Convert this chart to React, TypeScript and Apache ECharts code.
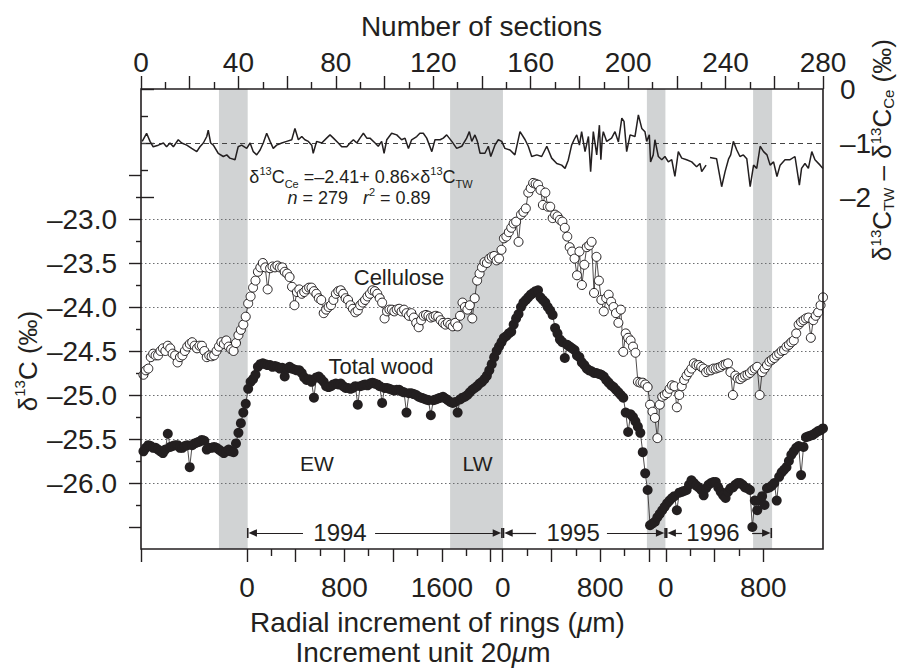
import React, { useEffect, useRef } from 'react';
import * as echarts from 'echarts';

const FONT = '"Liberation Sans", Arial, Helvetica, sans-serif';
const INK = '#231f20';

// delta13C of cellulose, one value per section (sections 1..280)
const cellulose = [
  -24.77, -24.72, -24.70, -24.57, -24.53, -24.55, -24.55, -24.50, -24.47, -24.50,
  -24.44, -24.47, -24.53, -24.55, -24.63, -24.57, -24.55, -24.50, -24.45, -24.42,
  -24.40, -24.44, -24.47, -24.44, -24.44, -24.50, -24.57, -24.55, -24.56, -24.55,
  -24.50, -24.45, -24.40, -24.42, -24.38, -24.45, -24.48, -24.50, -24.41, -24.32,
  -24.26, -24.20, -24.11, -23.96, -23.88, -23.78, -23.70, -23.60, -23.55, -23.50,
  -23.55, -23.80, -23.56, -23.54, -23.55, -23.53, -23.55, -23.55, -23.60, -23.62,
  -23.66, -23.77, -23.98, -23.83, -23.80, -23.85, -23.83, -23.80, -23.78, -23.78,
  -23.82, -23.85, -23.90, -23.92, -24.07, -24.03, -24.00, -23.98, -23.92, -23.85,
  -23.82, -23.81, -23.85, -23.90, -23.92, -23.98, -24.02, -24.06, -24.04, -23.98,
  -23.95, -23.92, -23.88, -23.85, -23.81, -23.82, -23.85, -23.90, -23.95, -24.13,
  -24.05, -24.03, -24.03, -24.05, -24.03, -24.02, -24.05, -24.03, -24.07, -24.10,
  -24.07, -24.12, -24.18, -24.23, -24.15, -24.10, -24.09, -24.10, -24.12, -24.11,
  -24.10, -24.11, -24.15, -24.18, -24.20, -24.18, -24.20, -24.22, -24.18, -24.22,
  -24.10, -23.95, -24.00, -24.03, -23.98, -24.13, -23.90, -23.70, -23.62, -23.55,
  -23.49, -23.50, -23.45, -23.43, -23.42, -23.47, -23.45, -23.35, -23.22, -23.20,
  -23.15, -23.10, -23.05, -23.03, -23.26, -22.95, -22.92, -22.88, -22.70, -22.65,
  -22.59, -22.60, -22.61, -22.67, -22.84, -22.70, -22.86, -22.86, -22.99, -22.95,
  -22.97, -23.01, -23.03, -23.10, -23.20, -23.32, -23.37, -23.45, -23.64, -23.37,
  -23.75, -23.52, -23.32, -23.30, -23.26, -23.84, -23.43, -23.70, -23.92, -24.05,
  -23.90, -23.86, -23.94, -24.00, -24.07, -24.18, -24.03, -24.51, -24.30, -24.35,
  -24.38, -24.45, -24.52, -24.85, -24.86, -24.86, -24.88, -24.91, -25.11, -25.19,
  -25.26, -25.49, -25.11, -25.02, -25.00, -24.98, -24.93, -24.89, -24.90, -25.14,
  -25.00, -24.90, -24.83, -24.78, -24.74, -24.70, -24.64, -24.66, -24.66, -24.68,
  -24.70, -24.74, -24.72, -24.72, -24.70, -24.70, -24.69, -24.68, -24.66, -24.65,
  -24.64, -24.74, -25.00, -24.78, -24.81, -24.82, -24.80, -24.78, -24.77, -24.75,
  -24.72, -24.70, -24.68, -25.00, -24.74, -24.70, -24.66, -24.62, -24.60, -24.58,
  -24.55, -24.53, -24.50, -24.49, -24.45, -24.43, -24.40, -24.38, -24.30, -24.20,
  -24.17, -24.15, -24.13, -24.12, -24.35, -24.15, -24.10, -24.06, -23.98, -23.89,
];

// delta13C of total wood, one value per section (sections 1..280)
const totalWood = [
  -25.64, -25.60, -25.57, -25.58, -25.60, -25.60, -25.62, -25.64, -25.66, -25.62,
  -25.44, -25.59, -25.58, -25.57, -25.57, -25.60, -25.60, -25.58, -25.57, -25.82,
  -25.57, -25.55, -25.54, -25.53, -25.51, -25.52, -25.62, -25.60, -25.60, -25.59,
  -25.60, -25.62, -25.64, -25.66, -25.64, -25.62, -25.64, -25.65, -25.55, -25.43,
  -25.32, -25.20, -25.10, -24.93, -24.85, -24.82, -24.77, -24.68, -24.65, -24.64,
  -24.65, -24.66, -24.66, -24.68, -24.67, -24.68, -24.70, -24.69, -24.79, -24.70,
  -24.68, -24.70, -24.71, -24.72, -24.72, -24.75, -24.80, -24.83, -24.82, -24.85,
  -25.03, -24.80, -24.79, -24.82, -24.85, -24.90, -24.91, -24.90, -24.88, -24.87,
  -24.88, -24.87, -24.90, -24.92, -24.92, -24.93, -24.92, -24.90, -25.11, -24.90,
  -24.89, -24.88, -24.89, -24.87, -24.86, -24.87, -24.88, -24.90, -25.09, -24.92,
  -24.92, -24.93, -24.94, -24.95, -24.94, -24.94, -24.96, -24.97, -25.20, -24.98,
  -24.98, -24.99, -25.00, -25.02, -25.03, -25.04, -25.05, -25.06, -25.23, -25.06,
  -25.05, -25.04, -25.03, -25.02, -25.04, -25.06, -25.08, -25.09, -25.08, -25.20,
  -25.05, -25.03, -25.02, -25.00, -24.97, -24.94, -24.92, -24.90, -24.87, -24.85,
  -24.82, -24.78, -24.72, -24.65, -24.57, -24.50, -24.45, -24.40, -24.35, -24.33,
  -24.30, -24.28, -24.20, -24.13, -24.08, -24.00, -23.95, -23.92, -23.89, -23.86,
  -23.84, -23.82, -23.81, -23.89, -23.92, -23.95, -24.00, -24.04, -24.09, -24.24,
  -24.30, -24.37, -24.40, -24.58, -24.43, -24.45, -24.47, -24.49, -24.55, -24.57,
  -24.63, -24.66, -24.70, -24.72, -24.73, -24.75, -24.75, -24.76, -24.77, -24.79,
  -24.83, -24.86, -24.89, -24.91, -24.94, -24.97, -25.00, -25.03, -25.20, -25.42,
  -25.22, -25.25, -25.30, -25.36, -25.43, -25.65, -25.89, -26.08, -26.48, -26.46,
  -26.44, -26.39, -26.35, -26.31, -26.27, -26.23, -26.20, -26.17, -26.15, -26.31,
  -26.11, -26.10, -26.09, -26.08, -26.02, -25.97, -26.00, -26.03, -26.05, -26.08,
  -26.14, -26.06, -26.02, -26.00, -25.99, -25.99, -26.05, -26.10, -26.14, -26.17,
  -26.10, -26.06, -26.05, -26.02, -26.00, -26.00, -26.02, -26.05, -26.06, -26.08,
  -26.50, -26.20, -26.31, -26.20, -26.15, -26.25, -26.06, -26.05, -26.03, -26.00,
  -26.20, -25.93, -25.88, -25.85, -25.82, -25.75, -25.68, -25.64, -25.60, -25.58,
  -25.91, -25.59, -25.48, -25.47, -25.46, -25.45, -25.43, -25.41, -25.40, -25.38,
];

// delta13C(TW) - delta13C(Ce) trace, read as (section, value) vertices; null = gap
const diffSections = [
  0.5, 2.3, 3.7, 5.0, 7.1, 9.2, 10.5, 11.9, 13.3, 15.3, 16.7, 18.8, 20.8, 22.9, 24.2, 25.6, 27.0, 27.6, 28.6, 29.7,
  31.7, 33.8, 35.2, 36.5, 38.6, 39.9, 41.3, 43.4, 44.8, 46.1, 47.5, 48.9, 50.2, 51.6, 53.0, 54.3, 55.7, 57.8, 59.8, 61.9,
  63.2, 64.6, 66.0, 67.3, 68.7, 70.1, 70.7, 72.1, 74.2, 76.2, 77.6, 79.0, 81.0, 82.4, 84.5, 85.8, 87.2, 88.6, 89.9, 91.3,
  92.7, 94.0, 96.1, 97.4, 98.8, 99.8, 100.9, 102.9, 105.0, 107.0, 108.4, 109.8, 111.1, 113.2, 114.5, 115.9, 117.3, 119.4, 120.7, 122.8,
  124.1, 125.5, 127.6, 129.6, 131.7, 133.7, 134.8, 135.8, 137.1, 138.1, 139.2, 141.2, 142.6, 143.6, 145.3, 146.7, 148.1, 149.4, 151.5, 153.5,
  155.6, 157.7, 159.0, 160.4, 162.5, 164.5, 166.6, 168.6, 170.7, 172.7, 174.1, 175.4, 176.8, 177.8, 178.9, 180.0, 180.9, 182.3, 183.7, 184.6,
  185.7, 187.1, 188.2, 188.8, 189.4, 189.8, 191.2, 193.2, 194.6, 196.0, 197.4, 198.3, 199.4, 200.8, 202.8, 204.2, 205.6, 206.9, 207.6, 208.7,
  209.2, 210.3, 211.0, 212.4, 213.8, 215.1, 216.5, 217.9, 219.2, 220.6, 222.0, 224.0, 226.1, 228.1, 229.5, 230.2, 232.0, 232.8, 233.6, 236.3,
  238.4, 239.8, 241.2, 242.1, 243.2, 244.6, 245.9, 247.3, 248.7, 250.1, 251.5, 252.8, 254.2, 255.6, 257.0, 258.3, 259.7, 261.1, 262.4, 264.4,
  266.5, 268.5, 270.3, 271.2, 272.6, 274.0, 275.4, 276.7, 278.8, 280.0,
];
const diffValues = [
  -0.97, -0.82, -0.97, -1.07, -1.04, -1.0, -1.07, -1.0, -1.07, -0.94, -1.0, -1.04, -1.1, -1.16, -1.07, -1.0, -0.88, -0.76, -1.0, -1.04,
  -1.19, -1.25, -1.22, -1.28, -1.31, -1.07, -1.04, -1.1, -1.0, -1.16, -1.22, -1.13, -1.0, -0.82, -0.97, -1.1, -1.04, -1.0, -0.97, -0.94,
  -0.73, -0.94, -0.88, -0.94, -0.97, -1.04, -1.19, -0.97, -1.0, -0.91, -0.85, -0.91, -1.0, -1.07, -1.07, -1.0, -0.94, -1.0, -0.91, -0.82,
  -0.91, -0.91, -1.0, -1.06, -0.97, -1.19, -0.94, -0.82, -0.85, -0.94, -0.91, -1.1, -0.94, -0.88, -0.82, -0.82, -0.91, -1.16, -0.94, -0.94,
  -0.91, -0.85, -0.97, -1.1, -1.06, -0.91, -0.79, -0.97, -0.85, -0.97, -1.19, -1.19, -1.06, -1.25, -1.04, -0.94, -0.97, -1.1, -1.13, -1.22,
  -0.79, -0.94, -1.06, -1.25, -1.22, -1.25, -1.06, -1.28, -1.38, -1.41, -1.47, -1.32, -1.04, -0.94, -0.85, -1.04, -0.79, -1.16, -0.88, -1.53,
  -0.79, -1.22, -0.67, -1.31, -0.91, -0.79, -0.97, -0.91, -0.79, -0.98, -0.54, -0.6, -1.16, -0.85, -0.88, -0.48, -0.73, -0.79, -0.97, -0.85,
  -1.35, -1.22, -0.94, -1.25, -1.31, -1.25, -1.35, -1.31, -1.62, -1.16, -1.28, -1.31, -1.35, -1.44, -1.38, -1.53, -1.41, null, -1.27, -1.29,
  -1.81, -1.53, -1.3, -1.22, -0.97, -1.13, -1.25, -1.22, -1.29, -1.81, -1.41, -1.47, -1.06, -1.16, -1.22, -1.41, -1.35, -1.62, -1.41, -1.31,
  -1.31, -1.25, -1.78, -1.47, -1.38, -1.47, -1.16, -1.31, -1.41, -1.47,
];

// shaded latewood bands (section ranges)
const bandStart = [32, 126.9, 207.7, 251.3];
const bandEnd = [43.8, 148.6, 215.3, 259.1];

// dotted reference levels on the left axis
const gridLevels = [-23, -23.5, -24, -24.5, -25, -25.5, -26];

// ring years along the bottom: boundaries and label positions (sections)
const yearNames = ['1994', '1995', '1996'];
const yearFrom = [43.5, 148.5, 215.5];
const yearTo = [148.5, 215.5, 259.1];
const yearLabelAt = [81.7, 177.4, 234.8];
const yearGapFrom = [66.5, 162.2, 222.1];
const yearGapTo = [96.1, 191.3, 250.9];
const yearLevel = -26.568;

// bottom axis: radial increment (micrometres), positions in sections
const radialLongTicks = [0, 43.5, 63.5, 83.5, 103.5, 123.5, 143.5, 148.5, 168.5, 188.5, 208.5, 215.5, 235.5, 255.5];
const radialShortTicks = [53.5, 73.5, 93.5, 113.5, 133.5, 158.5, 178.5, 198.5, 225.5, 245.5];
const radialLabelAt = [43.5, 83.5, 123.5, 148.5, 188.5, 215.5, 255.5];
const radialLabels = ['0', '800', '1600', '0', '800', '0', '800'];

const ARROW = 'path://M0,0L10,0L10,1.6L0,1.6Z M5,1.6L8.8,10L1.2,10Z';

export default function App() {
  const ref = useRef<HTMLDivElement>(null);

  useEffect(() => {
    if (!ref.current) return;
    const chart = echarts.init(ref.current, null, { renderer: 'svg' });

    const halfCats = Array.from({ length: 561 }, (_, i) => String(i / 2));
    const longIdx = new Set(radialLongTicks.map((s) => Math.round(s * 2)));
    const shortIdx = new Set(radialShortTicks.map((s) => Math.round(s * 2)));
    const labelMap = new Map<number, string>();
    radialLabelAt.forEach((s, i) => labelMap.set(Math.round(s * 2), radialLabels[i]));

    const tickLine = { color: INK, width: 1.4 };
    const axisText = { fontFamily: FONT, color: INK, fontSize: 28 };
    const off = 2.05;

    const yearLines: any[] = [];
    yearNames.forEach((_, i) => {
      yearLines.push([
        { coord: [yearFrom[i] + off, yearLevel], symbol: ARROW },
        { coord: [yearGapFrom[i], yearLevel], symbol: 'none' },
      ]);
      yearLines.push([
        { coord: [yearGapTo[i], yearLevel], symbol: 'none' },
        { coord: [yearTo[i] - off, yearLevel], symbol: ARROW },
      ]);
    });

    const txt = (x: number, y: number, text: string, size: number, extra: any = {}) => ({
      type: 'text',
      x,
      y,
      z: 100,
      silent: true,
      ...extra,
      style: {
        text,
        fontFamily: FONT,
        fontSize: size,
        fill: INK,
        align: 'center',
        verticalAlign: 'middle',
        ...(extra.style || {}),
      },
    });

    const richBase = (size: number, small: number, lh: number) => ({
      a: { fontFamily: FONT, fontSize: size, fill: INK, lineHeight: lh },
      i: { fontFamily: FONT, fontSize: size, fill: INK, fontStyle: 'italic', lineHeight: lh },
      s: { fontFamily: FONT, fontSize: small, fill: INK, verticalAlign: 'top', lineHeight: lh },
      b: { fontFamily: FONT, fontSize: small, fill: INK, verticalAlign: 'bottom', lineHeight: lh },
    });

    const option: any = {
      animation: false,
      backgroundColor: '#ffffff',
      grid: [
        { left: 141, right: 76, top: 89, bottom: 120, show: true, z: 10, borderColor: INK, borderWidth: 1.6, backgroundColor: 'transparent' },
        { left: 141, right: 76, top: 175, height: 352 },
        { left: 141, right: 76, top: 89, height: 108 },
        { left: 141, right: 76, top: 89, bottom: 120 },
      ],
      xAxis: [
        {
          gridIndex: 0, type: 'value', position: 'top', min: 0, max: 280, interval: 20,
          axisLine: { show: false }, splitLine: { show: false },
          axisTick: { show: true, length: 13, lineStyle: tickLine },
          minorTick: { show: true, splitNumber: 2, length: 7, lineStyle: tickLine },
          minorSplitLine: { show: false },
          axisLabel: { ...axisText, margin: 13, formatter: (v: number) => (v % 40 === 0 ? String(v) : '') },
        },
        {
          gridIndex: 0, type: 'category', position: 'bottom', data: halfCats, boundaryGap: false,
          axisLine: { show: false }, splitLine: { show: false },
          axisTick: { show: true, length: 13, interval: (i: number) => longIdx.has(i), lineStyle: tickLine },
          axisLabel: { ...axisText, margin: 24, interval: (i: number) => labelMap.has(i), formatter: (_v: string, i: number) => labelMap.get(i) || '' },
        },
        { gridIndex: 1, type: 'value', min: 0, max: 280, show: false },
        { gridIndex: 2, type: 'value', min: 0, max: 280, show: false },
        {
          gridIndex: 3, type: 'category', position: 'bottom', data: halfCats, boundaryGap: false,
          axisLine: { show: false }, splitLine: { show: false },
          axisTick: { show: true, length: 7, interval: (i: number) => shortIdx.has(i), lineStyle: tickLine },
          axisLabel: { show: false },
        },
      ],
      yAxis: [
        { gridIndex: 0, type: 'value', min: -26.75, max: -21.5227, show: false },
        {
          gridIndex: 1, type: 'value', position: 'left', min: -26.5, max: -22.5, interval: 0.5,
          axisLine: { show: false }, splitLine: { show: false },
          axisTick: { show: true, length: 12, lineStyle: tickLine },
          minorTick: { show: true, splitNumber: 2, length: 5, lineStyle: tickLine },
          minorSplitLine: { show: false },
          axisLabel: {
            ...axisText, margin: 24,
            formatter: (v: number) => (v <= -22.99 && v >= -26.01 ? '\u2013' + Math.abs(v).toFixed(1) : ''),
          },
        },
        {
          gridIndex: 2, type: 'value', position: 'right', min: -2, max: 0, interval: 1,
          axisLine: { show: false }, splitLine: { show: false },
          axisTick: { show: true, length: 13, lineStyle: tickLine },
          minorTick: { show: true, splitNumber: 2, length: 7, lineStyle: tickLine },
          minorSplitLine: { show: false },
          axisLabel: { ...axisText, margin: 17, formatter: (v: number) => (v === 0 ? '0' : '\u2013' + Math.abs(v)) },
        },
        { gridIndex: 3, type: 'value', show: false, min: 0, max: 1 },
      ],
      series: [
        {
          name: 'bands', type: 'scatter', xAxisIndex: 0, yAxisIndex: 0, data: [], z: 1, silent: true,
          markArea: {
            silent: true, z: 1,
            itemStyle: { color: '#d1d3d4' },
            data: bandStart.map((a, i) => [{ xAxis: a }, { xAxis: bandEnd[i] }]),
          },
        },
        {
          name: 'levels', type: 'scatter', xAxisIndex: 2, yAxisIndex: 1, data: [], z: 2, silent: true,
          markLine: {
            silent: true, z: 2, symbol: ['none', 'none'], label: { show: false },
            lineStyle: { type: [1.5, 2.5], color: '#6d6e71', width: 1 },
            data: gridLevels.map((v) => ({ yAxis: v })),
          },
        },
        {
          name: 'diff', type: 'line', xAxisIndex: 3, yAxisIndex: 2, z: 3, silent: true,
          data: diffSections.map((s, i) => [s, diffValues[i] === null ? '-' : diffValues[i]]),
          symbol: 'none', connectNulls: false, clip: false,
          lineStyle: { color: INK, width: 1.5 },
          markLine: {
            silent: true, z: 2, symbol: ['none', 'none'], label: { show: false },
            lineStyle: { type: [5, 4], color: '#444', width: 1 },
            data: [{ yAxis: -1 }],
          },
        },
        {
          name: 'Cellulose', type: 'line', xAxisIndex: 2, yAxisIndex: 1, z: 4, silent: true, clip: false,
          data: cellulose.map((v, i) => [i + 1, v]),
          symbol: 'circle', symbolSize: 9, showAllSymbol: true,
          lineStyle: { color: INK, width: 0.8 },
          itemStyle: { color: '#ffffff', borderColor: INK, borderWidth: 1 },
          emphasis: { disabled: true },
        },
        {
          name: 'Total wood', type: 'line', xAxisIndex: 2, yAxisIndex: 1, z: 5, silent: true, clip: false,
          data: totalWood.map((v, i) => [i + 1, v]),
          symbol: 'circle', symbolSize: 10, showAllSymbol: true,
          lineStyle: { color: INK, width: 0.8 },
          itemStyle: { color: INK },
          emphasis: { disabled: true },
        },
        {
          name: 'years', type: 'scatter', xAxisIndex: 0, yAxisIndex: 0, data: [], z: 6, silent: true,
          markLine: {
            silent: true, z: 6, symbolSize: [10, 10], label: { show: false },
            lineStyle: { type: 'solid', color: INK, width: 1.2 },
            data: yearLines,
          },
          markPoint: {
            silent: true, z: 6, symbol: 'circle', symbolSize: 1,
            itemStyle: { color: 'rgba(0,0,0,0)' },
            label: { show: true, position: 'inside', formatter: '{b}', fontFamily: FONT, fontSize: 24, color: INK },
            data: yearNames.map((n, i) => ({ name: n, coord: [yearLabelAt[i], yearLevel] })),
          },
        },
      ],
      graphic: [
        txt(481.5, 26, 'Number of sections', 28),
        txt(437.5, 622, '{a|Radial increment of rings (}{i|\u03bc}{a|m)}', 28, {
          style: { rich: richBase(28, 18, 30) },
        }),
        txt(423, 652, '{a|Increment unit 20}{i|\u03bc}{a|m}', 28, {
          style: { rich: richBase(28, 18, 28) },
        }),
        txt(28, 361, '{a|\u03b4}{s|13}{a|C (\u2030)}', 26, {
          rotation: Math.PI / 2,
          style: { rich: richBase(26, 15, 32) },
        }),
        txt(882, 150, '{a|\u03b4}{s|13}{a|C}{b|TW}{a| \u2013 \u03b4}{s|13}{a|C}{b|Ce}{a| (\u2030)}', 26, {
          rotation: Math.PI / 2,
          style: { rich: richBase(26, 15, 28) },
        }),
        txt(361, 177, '{a|\u03b4}{s|13}{a|C}{b|Ce}{a| =\u20132.41+ 0.86\u00d7\u03b4}{s|13}{a|C}{b|TW}', 18, {
          style: { rich: richBase(18, 11, 24) },
        }),
        txt(359, 198, '{i|n}{a| = 279   }{i|r}{s|2}{a| = 0.89}', 18, {
          style: { rich: richBase(18, 11, 24) },
        }),
        txt(399, 277, 'Cellulose', 22),
        txt(381, 366, 'Total wood', 22),
        txt(317, 463, 'EW', 21),
        txt(477.5, 463, 'LW', 21),
      ],
    };

    chart.setOption(option);
    return () => chart.dispose();
  }, []);

  return (
    <div
      ref={ref}
      style={{ position: 'fixed', left: 0, top: 0, width: 899, height: 669, background: '#ffffff' }}
    />
  );
}
